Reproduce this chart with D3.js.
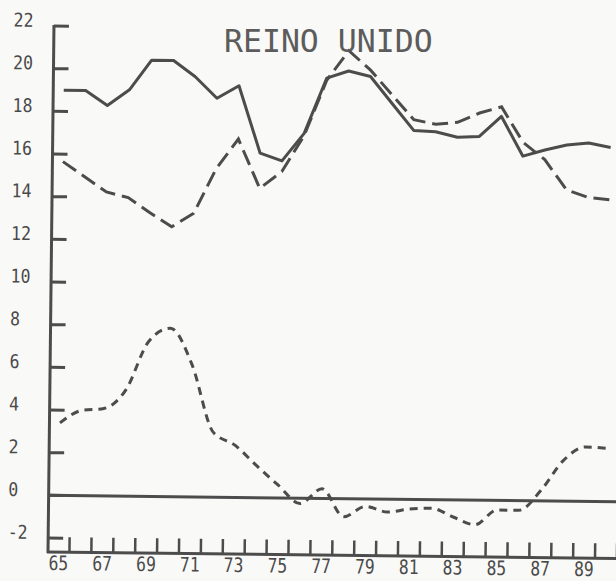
<!DOCTYPE html>
<html>
<head>
<meta charset="utf-8">
<script src="https://cdn.jsdelivr.net/npm/d3@7"></script>
<style>
  html, body { margin: 0; padding: 0; background: #f9f9f7; }
  svg { display: block; }
</style>
</head>
<body>
<svg></svg>
<script>
// years on the x axis, 1965 - 1990
const years = [65, 66, 67, 68, 69, 70, 71, 72, 73, 74, 75, 76, 77,
               78, 79, 80, 81, 82, 83, 84, 85, 86, 87, 88, 89, 90];

// solid line
const solidValues = [19.0, 19.0, 18.3, 19.05, 20.45, 20.45, 19.7, 18.7, 19.3, 16.15, 15.8, 17.1, 19.7,
                     20.05, 19.8, 18.55, 17.3, 17.25, 17.0, 17.05, 18.0, 16.15, 16.45, 16.7, 16.8, 16.6];

// long dashes
const longDashValues = [15.65, 14.95, 14.25, 14.0, 13.3, 12.65, 13.3, 15.4, 16.8, 14.5, 15.3, 17.0, 19.6,
                        21.0, 20.1, 18.95, 17.8, 17.6, 17.7, 18.15, 18.45, 16.8, 16.0, 14.6, 14.25, 14.15];

// short dashes
const shortDashValues = [3.4, 4.0, 4.1, 5.0, 7.25, 7.9, 6.2, 3.05, 2.45, 1.5, 0.6, -0.25, 0.45,
                         -0.85, -0.35, -0.6, -0.45, -0.4, -0.8, -1.15, -0.45, -0.45, 0.5, 1.9, 2.55, 2.5];

const xLabels = ['65', '67', '69', '71', '73', '75', '77', '79', '81', '83', '85', '87', '89'];
const yTicks = [-2, 0, 2, 4, 6, 8, 10, 12, 14, 16, 18, 20, 22];
const title = 'REINO UNIDO';

const width = 616;
const height = 581;
const ink = '#4c4c4c';

let xScale;
let yScale;

let svg = d3.select('svg');
let chart;

function drawCanvas () {
    svg.attr('width', width);
    svg.attr('height', height);

    svg.append('rect')
        .attr('width', width)
        .attr('height', height)
        .attr('fill', '#f9f9f7');

    // the scanned page sits a little crooked
    chart = svg.append('g')
        .attr('transform', 'rotate(0.65, 48, 552)');
}

function generateScales () {
    xScale = d3.scaleLinear()
                .domain([65, 90])
                .range([58.5, 606]);

    yScale = d3.scaleLinear()
                .domain([-2, 22])
                .range([538, 26]);
}

function generateAxes () {
    // y axis line + ticks
    chart.append('line')
        .attr('x1', 48).attr('x2', 48)
        .attr('y1', yScale(22) - 1).attr('y2', 553)
        .attr('stroke', ink)
        .attr('stroke-width', 3);

    chart.selectAll('.ytick')
        .data(yTicks)
        .enter()
        .append('line')
        .attr('class', 'ytick')
        .attr('x1', 48).attr('x2', 63)
        .attr('y1', d => yScale(d)).attr('y2', d => yScale(d))
        .attr('stroke', ink)
        .attr('stroke-width', 3);

    chart.selectAll('.ylabel')
        .data(yTicks)
        .enter()
        .append('text')
        .attr('class', 'ylabel')
        .attr('transform', d => 'translate(7.5,' + (yScale(d) + 1) + ') scale(0.87,1)')
        .attr('font-family', 'DejaVu Sans Mono')
        .attr('font-size', 19)
        .attr('fill', '#4a4a4a')
        .text(d => d);

    // x axis line + ticks between the years
    chart.append('line')
        .attr('x1', 47).attr('x2', 640)
        .attr('y1', 552).attr('y2', 552)
        .attr('stroke', ink)
        .attr('stroke-width', 3);

    chart.selectAll('.xtick')
        .data(years)
        .enter()
        .append('line')
        .attr('class', 'xtick')
        .attr('x1', d => xScale(d + 0.5)).attr('x2', d => xScale(d + 0.5))
        .attr('y1', 552).attr('y2', 537)
        .attr('stroke', ink)
        .attr('stroke-width', 2.5);

    chart.selectAll('.xlabel')
        .data(xLabels)
        .enter()
        .append('text')
        .attr('class', 'xlabel')
        .attr('transform', d => 'translate(' + xScale(+d) + ',570) scale(0.82,1)')
        .attr('text-anchor', 'middle')
        .attr('font-family', 'DejaVu Sans Mono')
        .attr('font-size', 20)
        .attr('fill', '#4a4a4a')
        .text(d => d);

    // zero line
    chart.append('line')
        .attr('x1', 48).attr('x2', 640)
        .attr('y1', yScale(0)).attr('y2', yScale(0))
        .attr('stroke', ink)
        .attr('stroke-width', 3);
}

function drawLines () {
    const line = d3.line()
        .x((d, i) => xScale(years[i]))
        .y(d => yScale(d));

    chart.append('path')
        .datum(solidValues)
        .attr('d', line)
        .attr('fill', 'none')
        .attr('stroke', ink)
        .attr('stroke-width', 3)
        .attr('stroke-linejoin', 'round');

    chart.append('path')
        .datum(longDashValues)
        .attr('d', line)
        .attr('fill', 'none')
        .attr('stroke', ink)
        .attr('stroke-width', 3)
        .attr('stroke-dasharray', '16,7');

    chart.append('path')
        .datum(shortDashValues)
        .attr('d', line.curve(d3.curveMonotoneX))
        .attr('fill', 'none')
        .attr('stroke', ink)
        .attr('stroke-width', 3)
        .attr('stroke-dasharray', '8,6');
}

function drawTitle () {
    svg.append('text')
        .attr('x', 224)
        .attr('y', 52)
        .attr('font-family', 'DejaVu Sans Mono')
        .attr('font-size', 31.5)
        .attr('fill', '#5c5c5c')
        .text(title);
}

drawCanvas();
generateScales();
generateAxes();
drawLines();
drawTitle();
</script>
</body>
</html>
